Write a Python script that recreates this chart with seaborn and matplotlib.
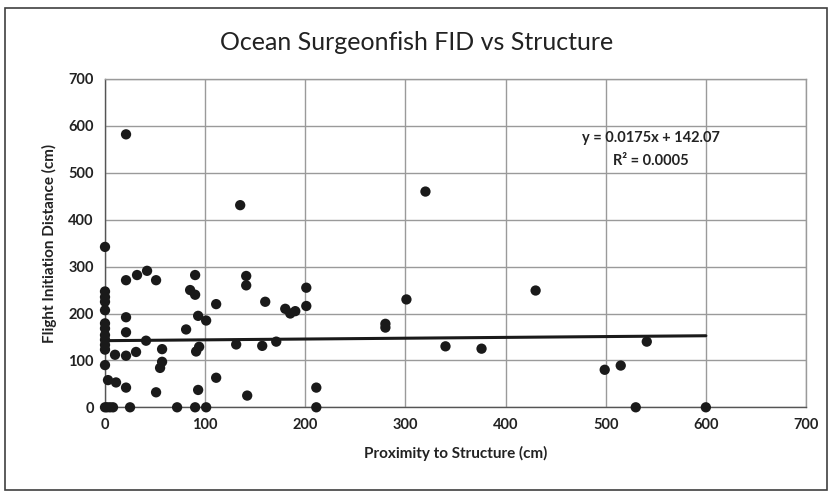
import matplotlib
matplotlib.use("Agg")
import matplotlib.pyplot as plt
from matplotlib.patches import Rectangle
import seaborn as sns
import numpy as np
import pandas as pd

# Proximity to structure (cm) and flight initiation distance (cm) for each fish
proximity = [0, 0, 0, 0, 0, 0, 0, 0, 0, 0, 0, 0, 0, 2, 5, 8,
             3, 11, 21, 10, 21, 31, 21, 21, 21, 32, 42, 51, 41, 51, 25, 21,
             57, 57, 55, 72, 90, 101, 81, 85, 90, 90, 93, 101, 91, 94, 93, 111,
             111, 131, 135, 142, 141, 141, 157, 160, 171, 180, 185, 190, 201, 201,
             211, 211, 280, 280, 301, 320, 340, 376, 430, 499, 515, 530, 541, 600]
fid = [342, 247, 235, 225, 207, 179, 168, 154, 144, 133, 123, 90, 0, 0, 0, 0,
       58, 53, 42, 112, 110, 118, 192, 160, 271, 282, 291, 271, 142, 32, 0, 582,
       124, 97, 84, 0, 0, 0, 166, 250, 282, 240, 195, 185, 119, 129, 37, 63,
       220, 134, 431, 25, 280, 260, 131, 225, 140, 210, 200, 205, 255, 216,
       42, 0, 178, 170, 230, 460, 130, 125, 249, 80, 89, 0, 140, 0]

# Linear trendline
slope = 0.0175
intercept = 142.07
r_squared = 0.0005
trend_x = [0, 600]

x_ticks = [0, 100, 200, 300, 400, 500, 600, 700]
y_ticks = [0, 100, 200, 300, 400, 500, 600, 700]

df = pd.DataFrame({"Proximity": proximity, "FID": fid})
trend = pd.DataFrame({"x": trend_x, "y": [slope * v + intercept for v in trend_x]})

sns.set_theme(style="white")
plt.rcParams["font.family"] = ["Lato", "DejaVu Sans"]

fig = plt.figure(figsize=(8.33, 4.98), dpi=100)
ax = fig.add_axes([105 / 833, (498 - 407.3) / 498, (806 - 105) / 833, (407.3 - 79) / 498])

# Chart border
fig.patches.append(Rectangle((5 / 833, 8 / 498), 822 / 833, 482 / 498,
                             transform=fig.transFigure, fill=False,
                             edgecolor="#404040", linewidth=1.2))

ax.grid(True, color="#9a9a9a", linewidth=1.0)
ax.set_axisbelow(True)

sns.lineplot(data=trend, x="x", y="y", ax=ax, color="#1a1a1a", linewidth=2.2, zorder=2)
sns.scatterplot(data=df, x="Proximity", y="FID", ax=ax, color="#1a1a1a",
                s=55, edgecolor="none", zorder=3, clip_on=False)

ax.set_xlim(0, 700)
ax.set_ylim(0, 700)
ax.set_xticks(x_ticks)
ax.set_yticks(y_ticks)
ax.tick_params(axis="both", labelsize=10.5, length=0, pad=8)
for lbl in ax.get_xticklabels() + ax.get_yticklabels():
    lbl.set_fontweight("bold")
    lbl.set_color("#222222")
for side, sp in ax.spines.items():
    sp.set_color("#9a9a9a")
    sp.set_linewidth(1.0)
ax.spines["left"].set_color("#555555")
ax.spines["bottom"].set_color("#555555")

ax.set_xlabel("Proximity to Structure (cm)", fontsize=11, fontweight="bold",
              color="#222222", labelpad=10)
ax.set_ylabel("Flight Initiation Distance (cm)", fontsize=11, fontweight="bold",
              color="#222222", labelpad=8)

fig.text(0.5, 1 - 42 / 498, "Ocean Surgeonfish FID vs Structure", ha="center",
         va="center", fontsize=18, color="#222222")

ax.text(545, 575, f"y = {slope}x + {intercept}", ha="center", va="center",
        fontsize=10.5, fontweight="bold", color="#222222")
ax.text(545, 525, f"R² = {r_squared}", ha="center", va="center",
        fontsize=10.5, fontweight="bold", color="#222222")

fig.savefig("out.png", dpi=100, facecolor="white")
